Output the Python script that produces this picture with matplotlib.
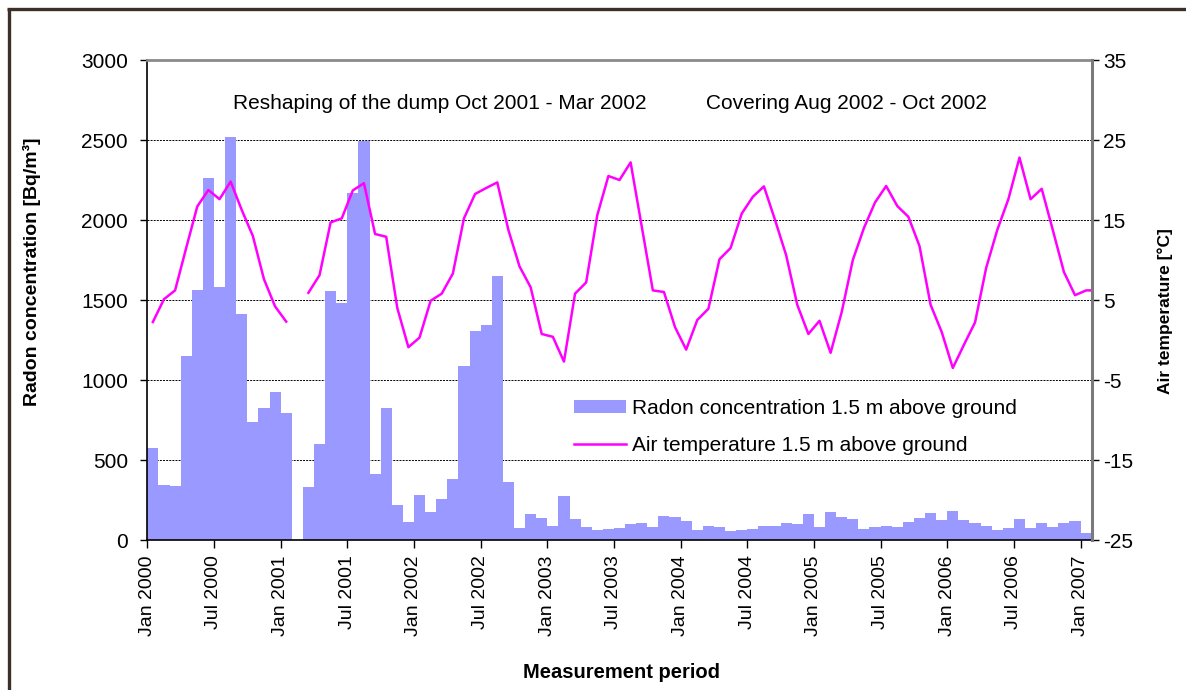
import numpy as np
import matplotlib
matplotlib.use("Agg")
import matplotlib.pyplot as plt
from matplotlib.lines import Line2D
from matplotlib.patches import Patch

plt.rcParams['font.family'] = ['Liberation Sans', 'DejaVu Sans']

# ---------------- data (monthly, Jan 2000 .. Feb 2007) ----------------
radon = [577, 344, 340, 1148, 1562, 2262, 1581, 2516, 1410, 737, 823, 923,
         794, np.nan, 333, 598, 1554, 1479, 2167, 2496, 412, 827, 219, 115,
         281, 177, 256, 379, 1090, 1306, 1342, 1650, 365, 77, 162, 135,
         90, 277, 131, 81, 62, 67, 73, 100, 108, 83, 152, 142,
         117, 60, 85, 79, 56, 60, 67, 90, 90, 104, 102, 162,
         81, 173, 146, 129, 71, 79, 87, 79, 112, 135, 167, 125,
         181, 125, 106, 90, 62, 77, 129, 77, 104, 81, 104, 119,
         44, 108]
temperature = [2.25, 5.1, 6.2, 11.5, 16.7, 18.75, 17.6, 19.8, 16.25, 13.0, 7.6, 4.2,
               2.3, np.nan, 5.9, 8.1, 14.7, 15.2, 18.7, 19.6, 13.25, 12.9, 4.0, -0.9,
               0.3, 4.9, 5.8, 8.3, 15.2, 18.25, 19.0, 19.7, 13.75, 9.2, 6.6, 0.75,
               0.4, -2.7, 5.8, 7.2, 15.6, 20.5, 20.0, 22.2, 14.2, 6.2, 6.0, 1.6,
               -1.2, 2.5, 3.9, 10.1, 11.5, 15.8, 17.9, 19.2, 15.0, 10.6, 4.4, 0.75,
               2.4, -1.6, 3.5, 10.0, 14.0, 17.2, 19.25, 16.75, 15.4, 11.75, 4.4, 1.0,
               -3.5, -0.6, 2.2, 9.0, 13.75, 17.6, 22.8, 17.6, 18.9, 13.75, 8.5, 5.6,
               6.2, 6.2]
tick_labels = ["Jan 2000", "Jul 2000", "Jan 2001", "Jul 2001", "Jan 2002", "Jul 2002",
               "Jan 2003", "Jul 2003", "Jan 2004", "Jul 2004", "Jan 2005", "Jul 2005",
               "Jan 2006", "Jul 2006", "Jan 2007"]
radon_ticks = [0, 500, 1000, 1500, 2000, 2500, 3000]
temp_ticks = [-25, -15, -5, 5, 15, 25, 35]

n_months_shown = 85
months = np.arange(len(radon))
centers = months + 0.5

# ---------------- figure ----------------
W, H = 1186, 690
fig = plt.figure(figsize=(W / 100, H / 100), dpi=100)
fig.patch.set_facecolor('white')

def fx(px):
    return px / W

def fy(py):
    return 1 - py / H

L, R, T, B = 147.3, 1091.7, 60, 540
ax = fig.add_axes([fx(L), fy(B), fx(R) - fx(L), fy(T) - fy(B)])
ax.set_axisbelow(True)

ax.bar(centers, radon, width=1.0, align='center', color='#9999FF',
       edgecolor='none', linewidth=0, label='Radon concentration 1.5 m above ground')
ax.set_xlim(0, n_months_shown)
ax.set_ylim(0, 3000)
ax.set_yticks(radon_ticks)
ax.set_yticklabels([str(v) for v in radon_ticks])
ax.yaxis.grid(True, color='black', linestyle=(0, (2, 1.2)), linewidth=0.7)
ax.xaxis.grid(False)

ax.set_xticks(np.arange(0, n_months_shown, 6))
ax.set_xticklabels(tick_labels, rotation=90, fontsize=14, va='top', ha='center')
ax.tick_params(axis='x', direction='out', length=6, width=1, pad=5, colors='black')
ax.tick_params(axis='y', direction='out', length=5, width=1, pad=9, labelsize=15)

for s in ['left', 'bottom']:
    ax.spines[s].set_color('black')
    ax.spines[s].set_linewidth(1.2)
ax.spines['top'].set_color('#8a8a8a')
ax.spines['top'].set_linewidth(2)
ax.spines['right'].set_visible(False)

ax2 = ax.twinx()
ax2.plot(centers, temperature, color='#FF00FF', linewidth=1.8,
         label='Air temperature 1.5 m above ground')
ax2.set_ylim(-25, 35)
ax2.set_yticks(temp_ticks)
ax2.set_yticklabels([str(v) for v in temp_ticks])
ax2.tick_params(axis='y', direction='out', length=5, width=1, pad=3, labelsize=15)
ax2.spines['right'].set_color('#7a7a7a')
ax2.spines['right'].set_linewidth(2.2)
ax2.spines['top'].set_visible(False)
ax2.spines['left'].set_visible(False)
ax2.spines['bottom'].set_visible(False)
ax2.set_xlim(0, n_months_shown)

# annotations
ax2.text((233 - L) / (R - L), (B - 109) / (B - T), 'Reshaping of the dump Oct 2001 - Mar 2002',
         transform=ax2.transAxes, fontsize=15, ha='left', va='baseline')
ax2.text((705.5 - L) / (R - L), (B - 109) / (B - T), 'Covering Aug 2002 - Oct 2002',
         transform=ax2.transAxes, fontsize=15, ha='left', va='baseline')

# legend
handles = [Patch(facecolor='#9999FF', edgecolor='none'),
           Line2D([0], [0], color='#FF00FF', linewidth=1.8)]
labels = ['Radon concentration 1.5 m above ground', 'Air temperature 1.5 m above ground']
ax2.legend(handles, labels, loc='center left',
           bbox_to_anchor=((574 - L) / (R - L), (B - 427) / (B - T)),
           frameon=False, fontsize=15, handlelength=2.5, handleheight=0.6,
           handletextpad=0.3, labelspacing=0.88, borderpad=0, borderaxespad=0)

# axis titles
fig.text(fx(32), fy(272), 'Radon concentration [Bq/m³]', rotation=90, fontsize=14,
         fontweight='bold', ha='center', va='center')
fig.text(fx(1165), fy(311), 'Air temperature [°C]', rotation=90, fontsize=12.5,
         fontweight='bold', ha='center', va='center')
fig.text(fx(621.5), fy(672), 'Measurement period', fontsize=14.5,
         fontweight='bold', ha='center', va='center')

# outer frame (left and top edges)
frame_col = '#3b2f27'
fig.add_artist(Line2D([fx(8.5), fx(8.5)], [0, fy(8.5)], color=frame_col, linewidth=2.4,
                      transform=fig.transFigure, solid_capstyle='butt'))
fig.add_artist(Line2D([fx(7.3), 1], [fy(8.5), fy(8.5)], color=frame_col, linewidth=2.4,
                      transform=fig.transFigure, solid_capstyle='butt'))

fig.savefig('out.png', dpi=100, facecolor='white')
